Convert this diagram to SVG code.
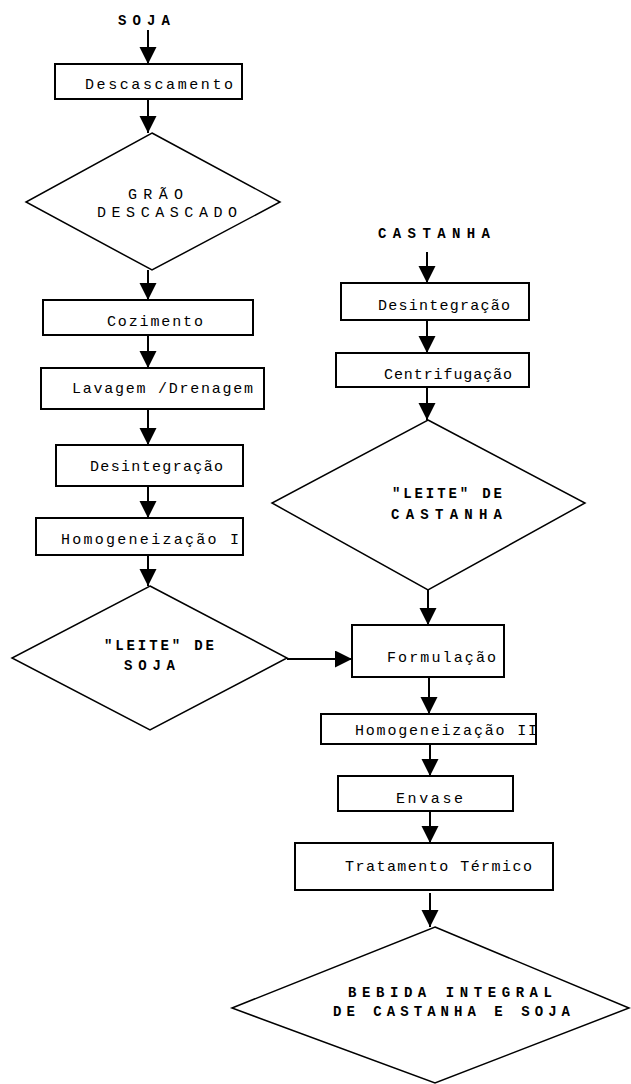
<svg xmlns="http://www.w3.org/2000/svg" width="631" height="1084" viewBox="0 0 631 1084">
<style>
.box{fill:#fff;stroke:#000;stroke-width:2}
.dia{fill:#fff;stroke:#000;stroke-width:1.5}
.t{font-family:"Liberation Mono","Courier New",monospace;font-size:15px;fill:#000}
.b{font-family:"Liberation Mono","Courier New",monospace;font-size:14px;font-weight:bold;fill:#000}
.c{stroke:#000;stroke-width:2;fill:none;marker-end:url(#ah)}
</style>
<defs>
<marker id="ah" markerUnits="userSpaceOnUse" markerWidth="18" markerHeight="18" refX="17" refY="8.5" orient="auto">
<path d="M0,0 L17,8.5 L0,17 Z" fill="#000"/>
</marker>
</defs>
<rect width="631" height="1084" fill="#fff"/>
<g id="connectors">
<line class="c" x1="148" y1="30" x2="148" y2="64"/>
<line class="c" x1="148" y1="99" x2="148" y2="133"/>
<line class="c" x1="148" y1="270" x2="148" y2="300"/>
<line class="c" x1="148" y1="335" x2="148" y2="368"/>
<line class="c" x1="148" y1="409" x2="148" y2="445"/>
<line class="c" x1="148" y1="486" x2="148" y2="518"/>
<line class="c" x1="148" y1="555" x2="148" y2="586"/>
<line class="c" x1="287" y1="659" x2="352" y2="659"/>
<line class="c" x1="427" y1="252" x2="427" y2="283"/>
<line class="c" x1="427" y1="320" x2="427" y2="353"/>
<line class="c" x1="427" y1="387" x2="427" y2="420"/>
<line class="c" x1="428" y1="590" x2="428" y2="625"/>
<line class="c" x1="429" y1="677" x2="429" y2="714"/>
<line class="c" x1="430" y1="744" x2="430" y2="776"/>
<line class="c" x1="430" y1="811" x2="430" y2="843"/>
<line class="c" x1="430" y1="893" x2="430" y2="927"/>
</g>
<g id="soja"><text class="b" x="118" y="25" textLength="52" lengthAdjust="spacing">SOJA</text></g>
<g id="descascamento"><rect class="box" x="55" y="64" width="187" height="35"/><text class="t" x="85" y="89" textLength="148" lengthAdjust="spacing">Descascamento</text></g>
<g id="grao"><polygon class="dia" points="152,133 280,202 152,270 26,202"/><text class="t" x="128" y="199" textLength="55" lengthAdjust="spacing">GRÃO</text><text class="t" x="97" y="217" textLength="140" lengthAdjust="spacing">DESCASCADO</text></g>
<g id="cozimento"><rect class="box" x="43" y="300" width="210" height="35"/><text class="t" x="107" y="326" textLength="96" lengthAdjust="spacing">Cozimento</text></g>
<g id="lavagem"><rect class="box" x="41" y="368" width="223" height="41"/><text class="t" x="72" y="393" textLength="181" lengthAdjust="spacing">Lavagem /Drenagem</text></g>
<g id="desint1"><rect class="box" x="56" y="445" width="187" height="41"/><text class="t" x="90" y="471" textLength="133" lengthAdjust="spacing">Desintegração</text></g>
<g id="homog1"><rect class="box" x="36" y="518" width="207" height="37"/><text class="t" x="61" y="544" textLength="178" lengthAdjust="spacing">Homogeneização I</text></g>
<g id="leite-soja"><polygon class="dia" points="150,586 287,658 150,730 12,658"/><text class="b" x="104" y="650" textLength="110" lengthAdjust="spacing">"LEITE" DE</text><text class="b" x="124" y="670" textLength="51" lengthAdjust="spacing">SOJA</text></g>
<g id="castanha"><text class="b" x="378" y="238" textLength="112" lengthAdjust="spacing">CASTANHA</text></g>
<g id="desint2"><rect class="box" x="341" y="283" width="188" height="37"/><text class="t" x="378" y="310" textLength="132" lengthAdjust="spacing">Desintegração</text></g>
<g id="centrif"><rect class="box" x="336" y="353" width="193" height="34"/><text class="t" x="384" y="379" textLength="128" lengthAdjust="spacing">Centrifugação</text></g>
<g id="leite-castanha"><polygon class="dia" points="428,420 585,503 428,590 272,503"/><text class="b" x="392" y="498" textLength="110" lengthAdjust="spacing">"LEITE" DE</text><text class="b" x="391" y="519" textLength="111" lengthAdjust="spacing">CASTANHA</text></g>
<g id="formulacao"><rect class="box" x="352" y="625" width="152" height="52"/><text class="t" x="387" y="662" textLength="109" lengthAdjust="spacing">Formulação</text></g>
<g id="homog2"><rect class="box" x="321" y="714" width="215" height="30"/><text class="t" x="355" y="735" textLength="182" lengthAdjust="spacing">Homogeneização II</text></g>
<g id="envase"><rect class="box" x="338" y="776" width="175" height="35"/><text class="t" x="396" y="803" textLength="67" lengthAdjust="spacing">Envase</text></g>
<g id="tratamento"><rect class="box" x="295" y="843" width="258" height="47"/><text class="t" x="345" y="871" textLength="187" lengthAdjust="spacing">Tratamento Térmico</text></g>
<g id="bebida"><polygon class="dia" points="435,927 629,1008 435,1083 232,1008"/><text class="b" x="348" y="997" textLength="204" lengthAdjust="spacing">BEBIDA INTEGRAL</text><text class="b" x="333" y="1016" textLength="237" lengthAdjust="spacing">DE CASTANHA E SOJA</text></g>
</svg>
